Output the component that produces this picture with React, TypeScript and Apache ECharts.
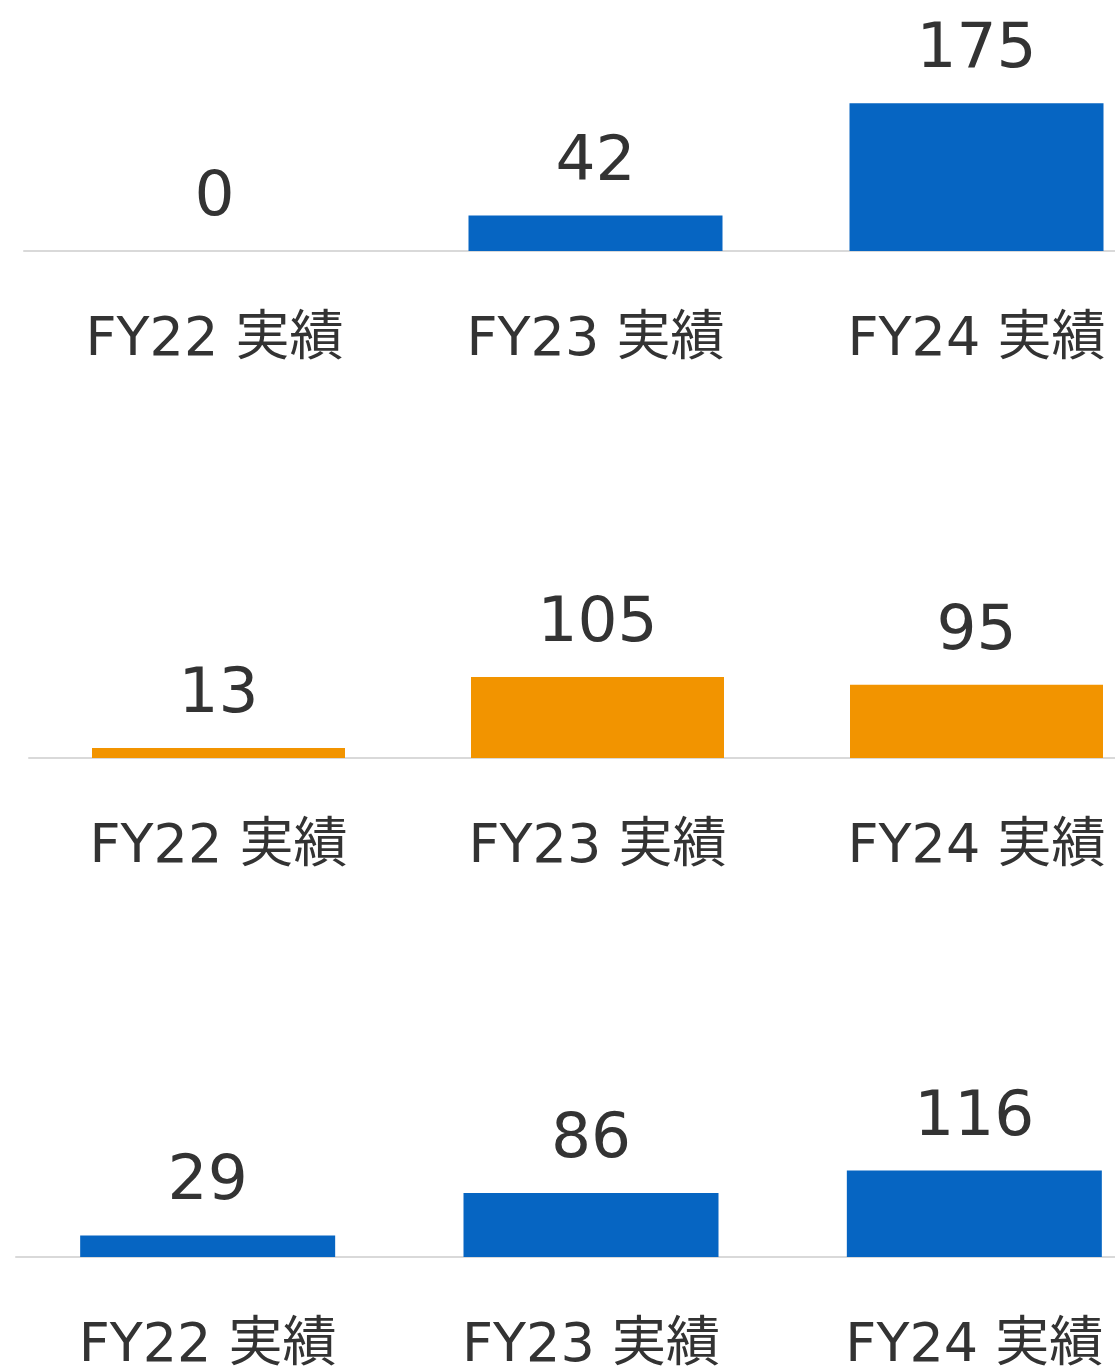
import React, { useEffect, useRef } from "react";
import * as echarts from "echarts";

const categories = ["FY22 実績", "FY23 実績", "FY24 実績"];
const panel1Values = [0, 42, 175];
const panel2Values = [13, 105, 95];
const panel3Values = [29, 86, 116];

const BLUE = "#0665C2";
const ORANGE = "#F29400";
const TEXT = "#333333";
const FONT = "'DejaVu Sans', 'Noto Sans CJK JP', sans-serif";

export default function App() {
  const ref = useRef<HTMLDivElement>(null);
  useEffect(() => {
    document.body.style.margin = "0";
    document.body.style.overflow = "hidden";
    if (!ref.current) return;
    const chart = echarts.init(ref.current, undefined, { renderer: "svg" });
    const grids = [
      { left: 24, top: 82, width: 1143, height: 169, max: 200 },
      { left: 29, top: 665.5, width: 1137, height: 92.5, max: 120 },
      { left: 16, top: 1167.6, width: 1150, height: 92.4, max: 120 },
    ];
    const data = [panel1Values, panel2Values, panel3Values];
    const colors = [BLUE, ORANGE, BLUE];
    const barWidths = [254, 253, 255];
    chart.setOption({
      animation: false,
      grid: grids.map((g) => ({ left: g.left, top: g.top, width: g.width, height: g.height, containLabel: false })),
      xAxis: grids.map((g, i) => ({
        type: "category",
        gridIndex: i,
        data: categories,
        axisLine: { show: true, lineStyle: { color: "#D9D9D9", width: 2 } },
        axisTick: { show: false },
        axisLabel: { color: TEXT, fontSize: 54, fontFamily: FONT, margin: 58, interval: 0 },
      })),
      yAxis: grids.map((g, i) => ({
        type: "value",
        gridIndex: i,
        min: 0,
        max: g.max,
        show: false,
        splitLine: { show: false },
      })),
      series: data.map((vals, i) => ({
        type: "bar",
        xAxisIndex: i,
        yAxisIndex: i,
        data: vals,
        barWidth: barWidths[i],
        itemStyle: { color: colors[i] },
        label: {
          show: true,
          position: "top",
          distance: 26,
          color: TEXT,
          fontSize: 63,
          fontFamily: FONT,
        },
      })),
    });
    return () => chart.dispose();
  }, []);
  return <div ref={ref} style={{ width: 1200, height: 1369 }} />;
}
